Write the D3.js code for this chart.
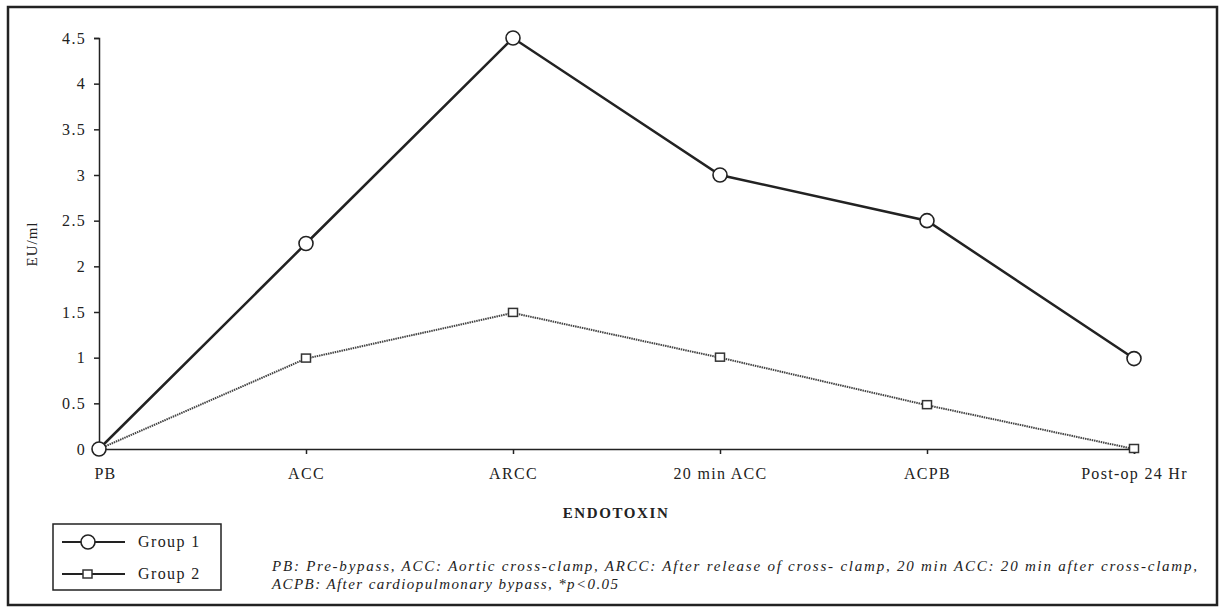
<!DOCTYPE html>
<html><head><meta charset="utf-8">
<script src="https://cdn.jsdelivr.net/npm/d3@7"></script>
<style>body{margin:0;background:#fff;} text{font-family:"Liberation Serif","Times New Roman",serif;fill:#222;}</style>
</head><body>
<svg id="c" width="1223" height="616"></svg>
<script>
const categories = ["PB","ACC","ARCC","20 min ACC","ACPB","Post-op 24 Hr"];
const group1 = [0, 2.25, 4.5, 3.0, 2.5, 0.99];
const group2 = [0, 0.99, 1.49, 1.0, 0.48, 0];
const yTicks = [0,0.5,1,1.5,2,2.5,3,3.5,4,4.5];
const seriesNames = ["Group 1","Group 2"];

const svg = d3.select("#c");
svg.append("rect").attr("x",8).attr("y",7).attr("width",1209).attr("height",598)
  .attr("fill","none").attr("stroke","#222").attr("stroke-width",2.5);

const x = d3.scalePoint().domain(categories).range([99,1134]);
const y = d3.scaleLinear().domain([0,4.5]).range([449,38]);

const fmt = d => d===0 ? "0" : String(d);
const yAxis = svg.append("g").attr("transform","translate(99,0)")
  .call(d3.axisLeft(y).tickValues(yTicks).tickFormat(fmt).tickSize(5).tickPadding(8));
const xAxis = svg.append("g").attr("transform","translate(0,449)")
  .call(d3.axisBottom(x).tickSize(5).tickPadding(14));
[yAxis,xAxis].forEach(a=>{
  a.selectAll("path").attr("stroke","#222").attr("stroke-width",1.5);
  a.selectAll("line").attr("stroke","#222").attr("stroke-width",1.5);
  a.selectAll("text").style("font-family","Liberation Serif, serif").style("font-size","16px")
    .style("letter-spacing","1.3px").attr("fill","#222");
});
xAxis.selectAll(".tick").filter(d=>d==="PB").select("text").attr("dx",6);

svg.append("text").attr("transform","translate(37,244) rotate(-90)").attr("text-anchor","middle")
  .style("font-size","15px").style("letter-spacing","1px").text("EU/ml");
svg.append("text").attr("x",616).attr("y",518).attr("text-anchor","middle")
  .style("font-size","15px").style("font-weight","bold").style("letter-spacing","1.6px").text("ENDOTOXIN");

const line = d3.line().x((d,i)=>x(categories[i])).y(d=>y(d));
svg.append("path").datum(group2).attr("d",line).attr("fill","none")
  .attr("stroke","#444").attr("stroke-width",2).attr("stroke-dasharray","1.5,0.8");
svg.append("path").datum(group1).attr("d",line).attr("fill","none")
  .attr("stroke","#222").attr("stroke-width",2.5);

svg.selectAll(".m2").data(group2).enter().append("rect")
  .attr("x",(d,i)=>x(categories[i])-4.5).attr("y",d=>y(d)-4.5).attr("width",9).attr("height",8)
  .attr("fill","#fff").attr("stroke","#333").attr("stroke-width",1.5);
svg.selectAll(".m1").data(group1).enter().append("circle")
  .attr("cx",(d,i)=>x(categories[i])).attr("cy",d=>y(d)).attr("r",7)
  .attr("fill","#fff").attr("stroke","#222").attr("stroke-width",1.6);

// legend
const lg = svg.append("g");
lg.append("rect").attr("x",53).attr("y",524).attr("width",168).attr("height",66)
  .attr("fill","#fff").attr("stroke","#222").attr("stroke-width",1.5);
seriesNames.forEach((n,i)=>{
  const yy = 542 + i*32;
  lg.append("line").attr("x1",62).attr("x2",125).attr("y1",yy).attr("y2",yy)
    .attr("stroke","#222").attr("stroke-width",2);
  if(i===0) lg.append("circle").attr("cx",88).attr("cy",yy).attr("r",7).attr("fill","#fff").attr("stroke","#222").attr("stroke-width",1.6);
  else lg.append("rect").attr("x",83).attr("y",yy-4).attr("width",9).attr("height",8).attr("fill","#fff").attr("stroke","#333").attr("stroke-width",1.5);
  lg.append("text").attr("x",138).attr("y",yy+5).style("font-size","16px").style("letter-spacing","1.4px").text(n);
});

const notes = ["PB: Pre-bypass, ACC: Aortic cross-clamp, ARCC: After release of cross- clamp, 20 min ACC: 20 min after cross-clamp,",
  "ACPB: After cardiopulmonary bypass, *p<0.05"];
const noteLens = [925, 346];
notes.forEach((t,i)=>svg.append("text").attr("x",272).attr("y",571+i*18)
  .attr("textLength",noteLens[i]).attr("lengthAdjust","spacing")
  .style("font-size","15px").style("font-style","italic").text(t));
</script>
</body></html>
